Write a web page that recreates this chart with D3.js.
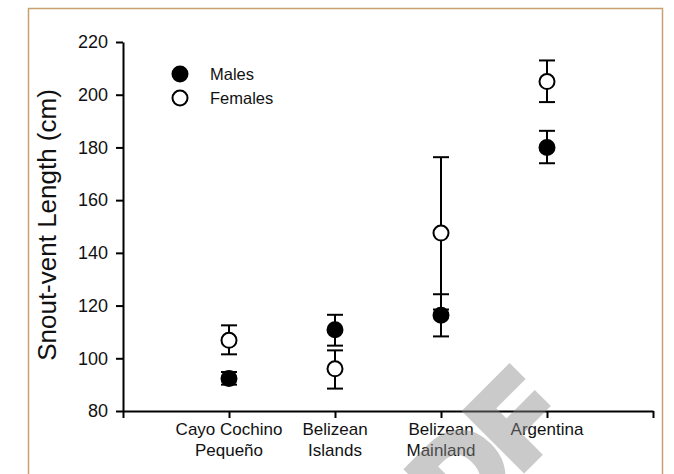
<!DOCTYPE html>
<html>
<head>
<meta charset="utf-8">
<script src="https://cdn.jsdelivr.net/npm/d3@7/dist/d3.min.js"></script>
<style>
  html, body { margin: 0; padding: 0; background: #fff; }
  svg { display: block; }
  text { font-family: "Liberation Sans", Arial, sans-serif; fill: #111; }
</style>
</head>
<body>
<svg id="chart" width="674" height="474"></svg>
<script>
// Snout-vent length by population and sex (mean with error range)
const categories = [["Cayo Cochino", "Pequeño"], ["Belizean", "Islands"], ["Belizean", "Mainland"], ["Argentina"]];
const malesMean   = [92.3, 110.8, 116.3, 180.0];
const malesLow    = [90.0, 104.8, 108.3, 174.0];
const malesHigh   = [94.8, 116.5, 124.3, 186.3];
const femalesMean = [106.8, 96.0, 147.5, 205.0];
const femalesLow  = [101.5, 88.5, 118.5, 197.2];
const femalesHigh = [112.5, 103.0, 176.3, 213.0];
const yTicks = [80, 100, 120, 140, 160, 180, 200, 220];
const legendLabels = ["Males", "Females"];
const watermark = "PDF";

const svg = d3.select("#chart");

// outer frame
svg.append("rect")
  .attr("x", 28.5).attr("y", 8.5)
  .attr("width", 634).attr("height", 480)
  .attr("fill", "none")
  .attr("stroke", "#c8a070")
  .attr("stroke-width", 1.5);

const x = d3.scaleLinear().domain([0, 5]).range([123, 653]);
const y = d3.scaleLinear().domain([80, 220]).range([411, 42]);

// y axis
const yAxis = svg.append("g")
  .attr("transform", `translate(${x(0)},0)`)
  .call(d3.axisLeft(y).tickValues(yTicks).tickSize(7).tickPadding(8).tickSizeOuter(0));
yAxis.select(".domain").attr("stroke", "#000").attr("stroke-width", 2);
yAxis.selectAll(".tick line").attr("stroke", "#000").attr("stroke-width", 2);
yAxis.selectAll(".tick text")
  .attr("font-size", 18)
  .attr("font-family", "Liberation Sans, Arial, sans-serif")
  .attr("fill", "#111");

// x axis with ticks at both ends and one per category
const xAxis = svg.append("g")
  .attr("transform", `translate(0,${y(80)})`)
  .call(d3.axisBottom(x).tickValues([0, 1, 2, 3, 4, 5]).tickSize(7).tickSizeOuter(0).tickFormat(""));
xAxis.select(".domain").attr("stroke", "#000").attr("stroke-width", 2);
xAxis.selectAll(".tick line").attr("stroke", "#000").attr("stroke-width", 2);

// category labels (one or two lines)
const catLabel = svg.append("g")
  .selectAll("text")
  .data(categories)
  .join("text")
  .attr("x", (d, i) => x(i + 1))
  .attr("y", 435)
  .attr("text-anchor", "middle")
  .attr("font-size", 17);
catLabel.selectAll("tspan")
  .data((d, i) => d.map(s => ({ s, i })))
  .join("tspan")
  .attr("x", d => x(d.i + 1))
  .attr("dy", (d, j) => j === 0 ? 0 : 21)
  .text(d => d.s);

// y axis title
svg.append("text")
  .attr("transform", "translate(56,225) rotate(-90)")
  .attr("text-anchor", "middle")
  .attr("font-size", 26)
  .text("Snout-vent Length (cm)");

// error bars
const capHalf = 8;
function errorBars(lo, hi, cls) {
  const g = svg.append("g").attr("class", cls)
    .attr("stroke", "#000").attr("stroke-width", 2).attr("fill", "none");
  const idx = d3.range(lo.length);
  g.selectAll("line.v").data(idx).join("line").attr("class", "v")
    .attr("x1", i => x(i + 1)).attr("x2", i => x(i + 1))
    .attr("y1", i => y(lo[i])).attr("y2", i => y(hi[i]));
  g.selectAll("line.lo").data(idx).join("line").attr("class", "lo")
    .attr("x1", i => x(i + 1) - capHalf).attr("x2", i => x(i + 1) + capHalf)
    .attr("y1", i => y(lo[i])).attr("y2", i => y(lo[i]));
  g.selectAll("line.hi").data(idx).join("line").attr("class", "hi")
    .attr("x1", i => x(i + 1) - capHalf).attr("x2", i => x(i + 1) + capHalf)
    .attr("y1", i => y(hi[i])).attr("y2", i => y(hi[i]));
}
errorBars(femalesLow, femalesHigh, "err-f");
errorBars(malesLow, malesHigh, "err-m");

// markers
const r = 7.5;
svg.append("g").selectAll("circle").data(femalesMean).join("circle")
  .attr("cx", (d, i) => x(i + 1)).attr("cy", d => y(d)).attr("r", r)
  .attr("fill", "#fff").attr("stroke", "#000").attr("stroke-width", 2);
svg.append("g").selectAll("circle").data(malesMean).join("circle")
  .attr("cx", (d, i) => x(i + 1)).attr("cy", d => y(d)).attr("r", r)
  .attr("fill", "#000").attr("stroke", "#000").attr("stroke-width", 2);

// legend
const legend = svg.append("g");
legendLabels.forEach((lab, i) => {
  const cy = 74 + i * 24;
  legend.append("circle")
    .attr("cx", 180).attr("cy", cy).attr("r", r)
    .attr("fill", i === 0 ? "#000" : "#fff")
    .attr("stroke", "#000").attr("stroke-width", 2);
  legend.append("text")
    .attr("x", 210).attr("y", cy + 6)
    .attr("font-size", 16.5)
    .text(lab);
});

// translucent diagonal watermark; the ink corner of its last letter is pinned
const wmSize = 114, wmStroke = 10;
const wmFont = `bold ${wmSize}px "DejaVu Sans"`;
const ctx = document.createElement("canvas").getContext("2d");
ctx.font = wmFont;
const lastGlyph = ctx.measureText(watermark.slice(-1));
const leadWidth = ctx.measureText(watermark.slice(0, -1)).width;
const lx = leadWidth - lastGlyph.actualBoundingBoxLeft - wmStroke / 2;
const ly = -lastGlyph.actualBoundingBoxAscent - wmStroke / 2;
const c = Math.SQRT1_2;
const cornerX = 474, cornerY = 392;
const tx = cornerX - c * (lx + ly);
const ty = cornerY - c * (-lx + ly);
svg.append("g")
  .attr("opacity", 0.45)
  .append("text")
  .attr("transform", `translate(${tx},${ty}) rotate(-45)`)
  .attr("font-family", "DejaVu Sans, sans-serif")
  .attr("font-weight", "bold")
  .attr("font-size", wmSize)
  .attr("stroke", "#8c8c8c")
  .attr("stroke-width", wmStroke)
  .attr("stroke-linejoin", "miter")
  .style("fill", "#8c8c8c")
  .text(watermark);
</script>
</body>
</html>
